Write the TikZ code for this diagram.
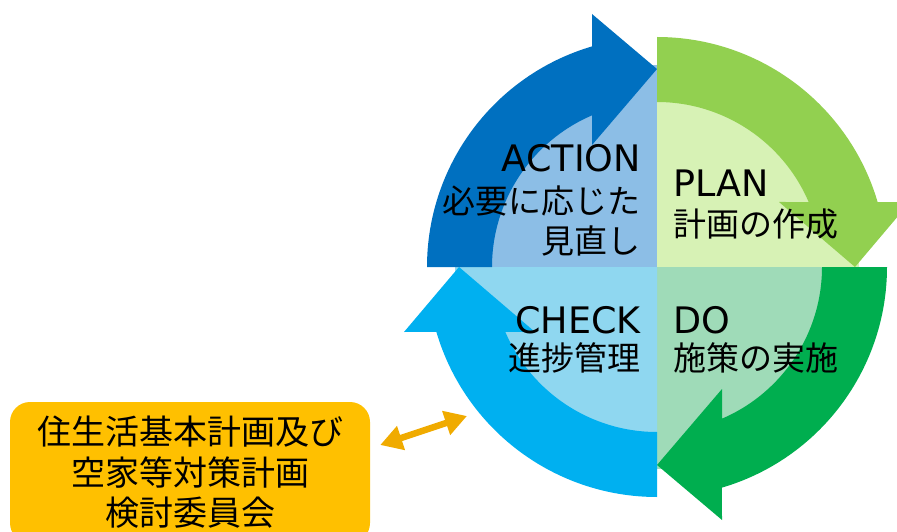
\documentclass[tikz,border=0pt]{standalone}
\usepackage{fontspec}
\setmainfont{Noto Sans CJK JP}
\newfontfamily\latinfont{DejaVu Sans}
\usetikzlibrary{arrows.meta}

\definecolor{actiondark}{HTML}{0070C0}
\definecolor{actionlight}{HTML}{8CBEE6}
\definecolor{plandark}{HTML}{92D050}
\definecolor{planlight}{HTML}{D7F2B5}
\definecolor{dodark}{HTML}{00AE4F}
\definecolor{dolight}{HTML}{9FDBB8}
\definecolor{checkdark}{HTML}{00B0F0}
\definecolor{checklight}{HTML}{8FD7F0}
\definecolor{boxorange}{HTML}{FFC000}
\definecolor{linkorange}{HTML}{F0AB00}

\begin{document}
\begin{tikzpicture}[
    x=1pt, y=1pt,
    entext/.style={inner sep=0pt, font=\latinfont\fontsize{36.5}{40}\selectfont},
    jptext/.style={inner sep=0pt, font=\fontsize{33}{40}\selectfont},
    committee/.style={rectangle, fill=boxorange, rounded corners=20pt, align=center, minimum width=360pt, minimum height=141pt, inner sep=0pt, font=\fontsize{34}{40.5}\selectfont},
    link/.style={{Triangle[length=22pt,width=24pt]}-{Triangle[length=22pt,width=24pt]}, line width=6.5pt, draw=linkorange}
]
\useasboundingbox (0,0) rectangle (897,531);

% PDCA wheel
\begin{scope}[shift={(657,264)}]
% Light quarters
\fill[actionlight] (0,0) -- (180:202) arc[start angle=180, end angle=90, radius=202] -- cycle;
\fill[planlight] (0,0) -- (90:202) arc[start angle=90, end angle=0, radius=202] -- cycle;
\fill[dolight] (0,0) -- (0:202) arc[start angle=0, end angle=-90, radius=202] -- cycle;
\fill[checklight] (0,0) -- (-90:202) arc[start angle=-90, end angle=-180, radius=202] -- cycle;

% Curved arrows
\fill[actiondark] (180:230) arc[start angle=180, end angle=106.4, radius=230] -- (-65,253) -- (0,198) -- (-65,122) -- (113.2:165) arc[start angle=113.2, end angle=180, radius=165] -- cycle;
\fill[plandark, rotate=-90] (180:230) arc[start angle=180, end angle=106.4, radius=230] -- (-65,253) -- (0,198) -- (-65,122) -- (113.2:165) arc[start angle=113.2, end angle=180, radius=165] -- cycle;
\fill[dodark, rotate=-180] (180:230) arc[start angle=180, end angle=106.4, radius=230] -- (-65,253) -- (0,198) -- (-65,122) -- (113.2:165) arc[start angle=113.2, end angle=180, radius=165] -- cycle;
\fill[checkdark, rotate=-270] (180:230) arc[start angle=180, end angle=106.4, radius=230] -- (-65,253) -- (0,198) -- (-65,122) -- (113.2:165) arc[start angle=113.2, end angle=180, radius=165] -- cycle;
\end{scope}

% Labels
\node[entext, anchor=base east] (action_en) at (641,359) {ACTION};
\node[jptext, anchor=base east] (action_jp1) at (641,317.5) {必要に応じた};
\node[jptext, anchor=base east] (action_jp2) at (641,277) {見直し};

\node[entext, anchor=base west] (plan_en) at (673,334) {PLAN};
\node[jptext, anchor=base west] (plan_jp) at (673,294.5) {計画の作成};

\node[entext, anchor=base east] (check_en) at (641,198) {CHECK};
\node[jptext, anchor=base east] (check_jp) at (641,160.5) {進捗管理};

\node[entext, anchor=base west] (do_en) at (673,198) {DO};
\node[jptext, anchor=base west] (do_jp) at (673,160.5) {施策の実施};

% Committee box
\node[committee] (committee) at (190,58.5) {住生活基本計画及び\\空家等対策計画\\検討委員会};

% Link to the wheel
\coordinate (wheel_link) at (467,115);
\draw[link] ([shift={(10,27.5)}]committee.east) -- (wheel_link);

\end{tikzpicture}
\end{document}
